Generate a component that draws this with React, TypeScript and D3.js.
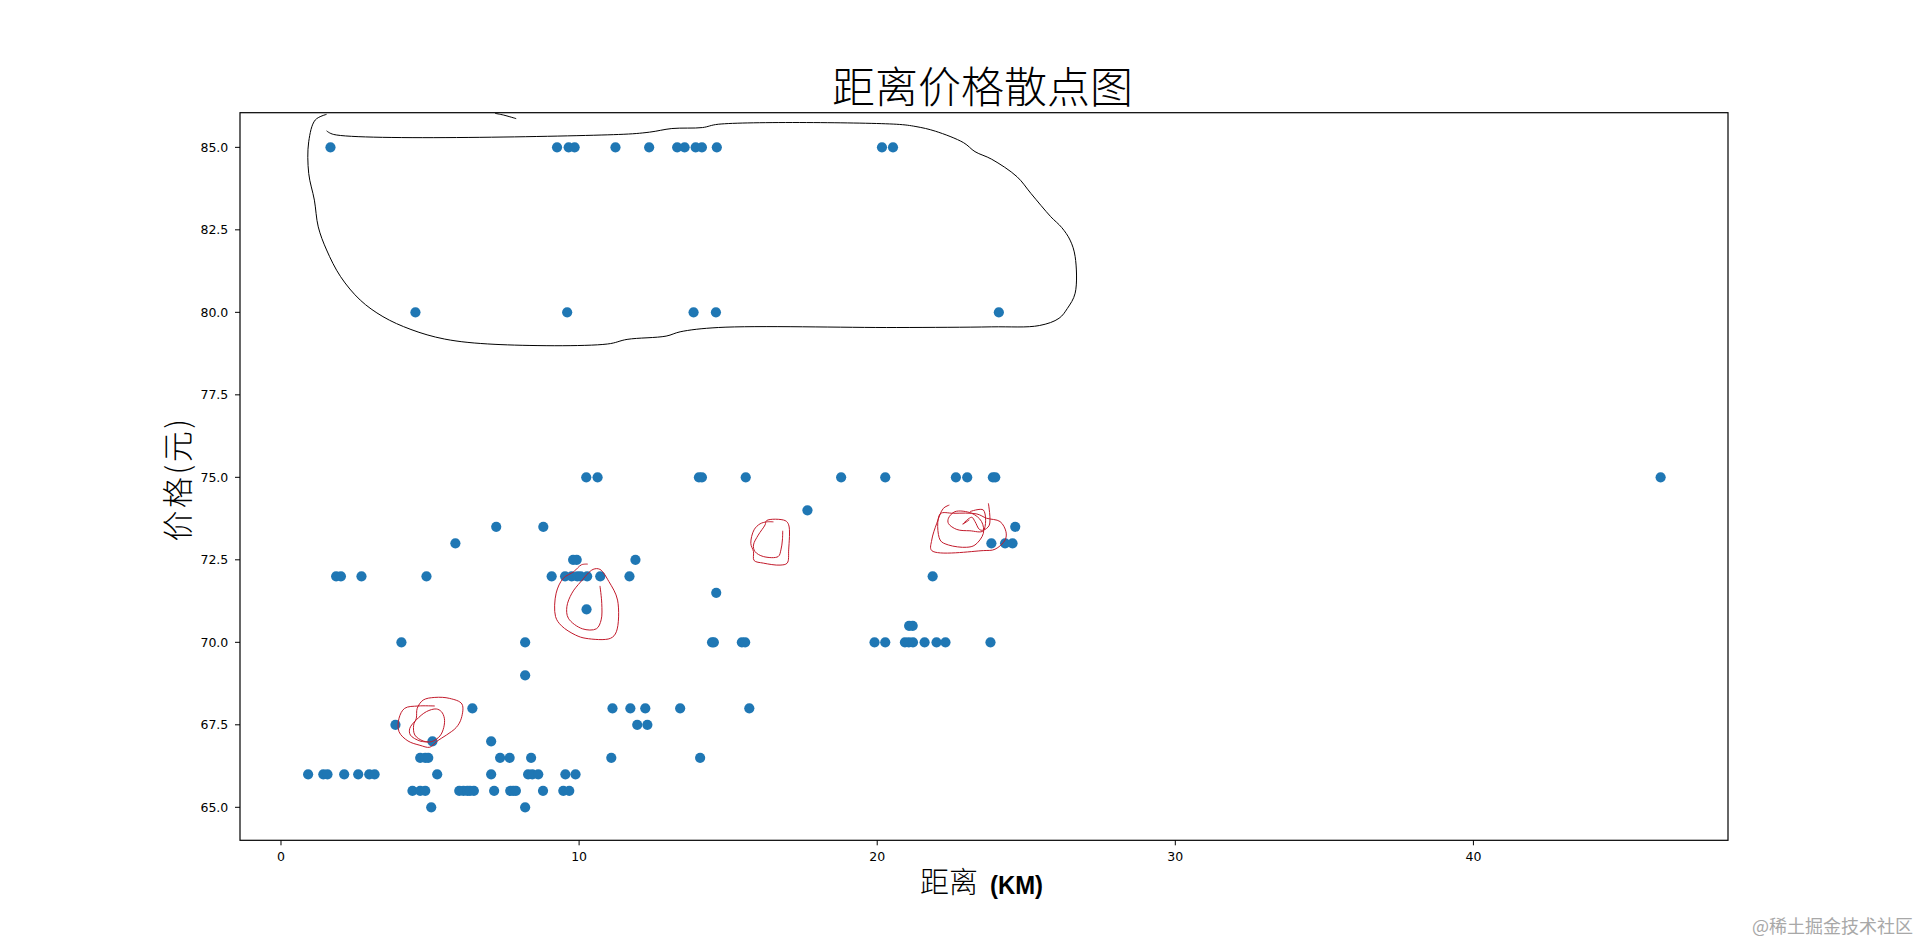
import React from "react";
import * as d3 from "d3";

const titleText = "距离价格散点图";
const xLabelCjk = "距离";
const xLabelLatin = "(KM)";
const yLabelText = "价格(元)";
const watermarkText = "@稀土掘金技术社区";
const xTicks = [0, 10, 20, 30, 40];
const yTicks = [65, 67.5, 70, 72.5, 75, 77.5, 80, 82.5, 85];
const price85 = [1.66, 9.26, 9.65, 9.85, 11.22, 12.35, 13.29, 13.54, 13.91, 14.12, 14.62, 20.16, 20.53];
const price80 = [4.51, 9.6, 13.84, 14.59, 24.08];
const price75 = [10.24, 10.62, 14.02, 14.12, 15.59, 18.79, 20.27, 22.64, 23.02, 23.88, 23.96, 46.28];
const price74 = [17.66];
const price735 = [7.22, 8.8, 24.63];
const price73 = [5.85, 23.83, 24.29, 24.54];
const price725 = [9.8, 9.92, 11.89];
const price72 = [1.85, 2.01, 2.7, 4.88, 9.08, 9.53, 9.75, 9.94, 10.05, 10.27, 10.71, 11.69, 21.86];
const price715 = [14.6];
const price71 = [10.25];
const price705 = [21.07, 21.19];
const price70 = [4.04, 8.19, 14.46, 14.52, 15.46, 15.57, 19.91, 20.27, 20.93, 21.06, 21.2, 21.59, 21.99, 22.29, 23.8];
const price69 = [8.19];
const price68 = [6.42, 11.12, 11.72, 12.22, 13.39, 15.71];
const price675 = [3.84, 11.95, 12.29];
const price67 = [5.08, 7.05];
const price665 = [4.67, 4.84, 4.94, 7.35, 7.67, 8.39, 11.08, 14.06];
const price66 = [0.91, 1.42, 1.56, 2.12, 2.59, 2.96, 3.14, 5.24, 7.05, 8.29, 8.43, 8.63, 9.54, 9.88];
const price655 = [4.41, 4.67, 4.84, 5.98, 6.12, 6.25, 6.34, 6.47, 7.15, 7.69, 7.79, 7.88, 8.79, 9.47, 9.67];
const price65 = [5.04, 8.19];
const rows: [number, number[]][] = [
  [85, price85], [80, price80], [75, price75], [74, price74], [73.5, price735], [73, price73],
  [72.5, price725], [72, price72], [71.5, price715], [71, price71], [70.5, price705], [70, price70],
  [69, price69], [68, price68], [67.5, price675], [67, price67], [66.5, price665], [66, price66],
  [65.5, price655], [65, price65],
];

const blackLoop: [number, number][] = [
  [1.53,85.5],[1.77,85.39],[11.32,85.39],[12.36,85.46],[13.11,85.57],[14.14,85.6],[14.67,85.7],[20.64,85.7],[21.3,85.63],[21.95,85.49],[22.9,85.14],[23.28,84.87],[23.84,84.64],[24.69,84.11],[25.16,83.6],[25.82,82.9],[26.19,82.57],[26.47,82.19],[26.64,81.69],[26.64,80.58],[26.38,80.12],[26.1,79.82],[25.44,79.6],[23.84,79.56],[20.64,79.54],[14.67,79.54],[13.39,79.41],[12.92,79.28],[11.61,79.18],[10.95,79.04],[7.18,79.03],[5.49,79.19],[4.36,79.48],[3.42,79.87],[2.66,80.37],[2.0,81.08],[1.53,81.89],[1.25,82.59],[1.12,83.4],[0.93,84.21],[0.93,85.17],[1.15,85.83],[1.53,86.0],
];
const blackTail: [number, number][] = [[7.18,86.03],[7.46,85.98],[7.89,85.87]];
const redLoopA: [number, number][] = [
  [5.16,68.07],[4.6,68.07],[4.15,68.0],[3.96,67.7],[3.96,67.29],[4.26,67.01],[4.66,66.88],[4.99,66.82],[5.21,66.99],[5.55,67.19],[5.88,67.42],[6.05,67.7],[6.07,68.13],[5.66,68.3],[5.16,68.33],[4.77,68.25],[4.57,68.0],[4.54,67.7],[4.45,67.49],[4.49,67.19],[4.77,67.01],[5.05,66.99],[5.33,67.16],[5.46,67.42],[5.48,67.7],[5.38,67.9],[5.21,67.98],[4.88,67.9],[4.54,67.65],[4.32,67.39],[4.34,67.19],[4.66,67.01],[4.94,66.98],
];
const redLoopB: [number, number][] = [
  [10.29,72.37],[10.08,72.35],[9.82,72.14],[9.47,71.94],[9.23,71.49],[9.21,70.78],[9.41,70.5],[9.88,70.22],[10.23,70.12],[11.05,70.12],[11.25,70.32],[11.29,71.28],[11.0,71.84],[10.7,72.21],[10.47,72.21],[10.06,71.84],[9.76,71.49],[9.59,71.08],[9.64,70.73],[10.11,70.41],[10.58,70.41],[10.74,70.68],[10.76,71.18],[10.7,71.71],
];
const redLoopC: [number, number][] = [
  [16.52,73.65],[16.29,73.65],[16.07,73.59],[15.87,73.41],[15.76,73.0],[15.85,72.75],[15.87,72.48],[16.18,72.4],[16.74,72.34],[16.98,72.4],[17.03,72.8],[17.03,73.56],[16.91,73.69],[16.29,73.69],[16.24,73.56],[16.01,73.25],[15.85,72.95],[15.9,72.75],[16.18,72.6],[16.68,72.6],[16.77,72.8],[16.82,73.1],[16.83,73.38],
];
const redLoopD: [number, number][] = [
  [22.42,74.16],[22.22,74.06],[22.0,73.61],[21.83,73.1],[21.83,72.78],[23.56,72.78],[23.95,72.82],[24.29,73.1],[24.32,73.35],[24.12,73.66],[23.67,73.76],[23.34,73.89],[22.56,73.91],[22.11,73.89],
  [22.11,73.1],[22.39,72.95],[23.0,72.88],[23.28,72.95],[23.56,73.3],[23.5,73.66],[23.17,73.91],[22.61,73.96],[22.39,73.76],[22.39,73.6],[22.67,73.42],[23.11,73.38],[23.56,73.38],[23.56,74.01],[23.11,73.96],
];
const redLoopE: [number, number][] = [
  [23.73,74.21],[23.76,73.55],[23.56,73.4],[23.43,73.42],[23.28,73.66],[23.17,73.79],[22.87,73.58],[23.09,73.71],
];

const W = 1920;
const H = 944;
const L = 240, R = 1728, T = 112.7, B = 840.3;
const CJK = "'Noto Sans CJK SC',sans-serif";

export default function App() {
  const x = d3.scaleLinear().domain([-1.375, 48.54]).range([L, R]);
  const y = d3.scaleLinear().domain([64, 86.05]).range([B, T]);
  const line = d3.line<[number, number]>().x((d) => x(d[0])).y((d) => y(d[1])).curve(d3.curveCatmullRom.alpha(0.5));
  const inkBlack = [blackLoop, blackTail];
  const inkRed = [redLoopA, redLoopB, redLoopC, redLoopD, redLoopE];
  return (
    <svg width={W} height={H} style={{ position: "absolute", left: 0, top: 0, display: "block", background: "#fff" }}>
      <text x={982.6} y={103} textAnchor="middle" fontFamily={CJK} fontSize={43} fontWeight={300}>{titleText}</text>
      {rows.map(([p, xs]) => xs.map((v, i) => (
        <circle key={p + "-" + i} cx={x(v)} cy={y(p)} r={5.1} fill="#1f77b4" />
      )))}
      {inkBlack.map((d, i) => <path key={i} d={line(d) ?? ""} fill="none" stroke="#000" strokeWidth={1} />)}
      {inkRed.map((d, i) => <path key={i} d={line(d) ?? ""} fill="none" stroke="#c21a2b" strokeWidth={1} />)}
      <rect x={L} y={T} width={R - L} height={B - T} fill="none" stroke="#000" strokeWidth={1.2} />
      {xTicks.map((t) => (
        <g key={t}>
          <line x1={x(t)} x2={x(t)} y1={B} y2={B + 5} stroke="#000" strokeWidth={1} />
          <text x={x(t)} y={B + 20.7} textAnchor="middle" fontFamily="'DejaVu Sans'" fontSize={12.5}>{t}</text>
        </g>
      ))}
      {yTicks.map((t) => (
        <g key={t}>
          <line x1={L - 5} x2={L} y1={y(t)} y2={y(t)} stroke="#000" strokeWidth={1} />
          <text x={L - 11.7} y={y(t) + 4.6} textAnchor="end" fontFamily="'DejaVu Sans'" fontSize={12.5}>{d3.format(".1f")(t)}</text>
        </g>
      ))}
      <text x={920} y={893} fontFamily={CJK} fontSize={29} fontWeight={300}>{xLabelCjk}</text>
      <text x={990} y={894} fontFamily="'Liberation Sans'" fontWeight={700} fontSize={26} textLength={53} lengthAdjust="spacingAndGlyphs">{xLabelLatin}</text>
      <text transform={`translate(189,479) rotate(-90)`} textAnchor="middle" fontFamily={CJK} fontSize={31} fontWeight={300} letterSpacing={2.5}>{yLabelText}</text>
      <text x={1913} y={933} textAnchor="end" fontFamily={CJK} fontSize={18} fill="#a8a8a8">{watermarkText}</text>
    </svg>
  );
}
